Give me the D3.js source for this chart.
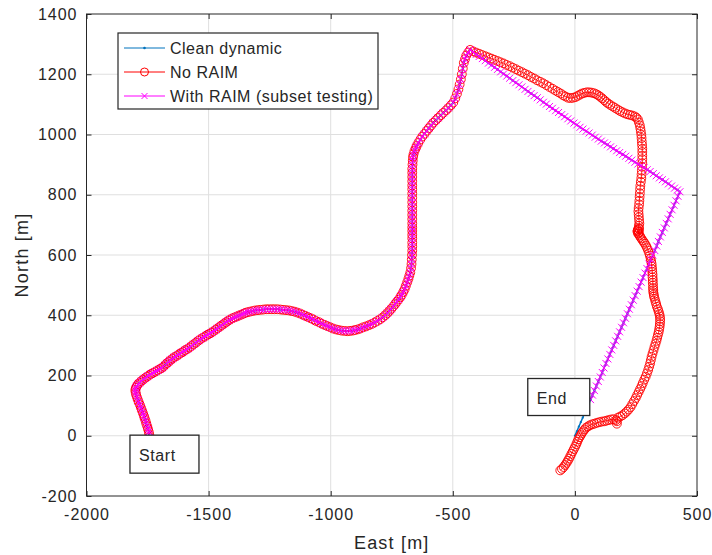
<!DOCTYPE html>
<html>
<head>
<meta charset="utf-8">
<script src="https://cdn.jsdelivr.net/npm/d3@7"></script>
<style>
  body { margin: 0; background: #fff; }
  text { font-family: "Liberation Sans", Arial, sans-serif; fill: #262626; }
</style>
</head>
<body>
<div id="chart"></div>
<script>
// Track shared by all three solutions, start -> top of the route (East, North in m)
const commonTrack = [
  [-1742, -5], [-1743, 4], [-1745, 13], [-1748, 22], [-1751, 31], [-1755, 40], [-1758, 49], [-1762, 58],
  [-1765, 66], [-1769, 75], [-1773, 84], [-1777, 93], [-1781, 102], [-1786, 111], [-1790, 120], [-1794, 129],
  [-1797, 137], [-1799, 145], [-1800, 152], [-1798, 159], [-1794, 165], [-1789, 171], [-1783, 176], [-1776, 181],
  [-1769, 186], [-1761, 191], [-1753, 196], [-1745, 200], [-1736, 205], [-1727, 209], [-1718, 213], [-1709, 217],
  [-1700, 221], [-1692, 225], [-1684, 230], [-1677, 236], [-1670, 241], [-1663, 246], [-1656, 251], [-1648, 256],
  [-1640, 261], [-1631, 265], [-1622, 270], [-1613, 275], [-1604, 279], [-1596, 284], [-1587, 288], [-1578, 293],
  [-1570, 298], [-1561, 304], [-1552, 309], [-1543, 315], [-1534, 320], [-1525, 325], [-1516, 329], [-1507, 334],
  [-1498, 338], [-1489, 342], [-1480, 347], [-1471, 352], [-1463, 357], [-1454, 362], [-1446, 367], [-1437, 372],
  [-1428, 377], [-1420, 382], [-1411, 386], [-1402, 390], [-1393, 393], [-1384, 396], [-1376, 399], [-1367, 402],
  [-1358, 405], [-1350, 408], [-1341, 410], [-1331, 412], [-1320, 414], [-1309, 416], [-1298, 417], [-1287, 418],
  [-1276, 419], [-1264, 420], [-1253, 420], [-1241, 420], [-1230, 420], [-1218, 420], [-1206, 419], [-1195, 418],
  [-1183, 417], [-1171, 416], [-1160, 414], [-1148, 412], [-1137, 409], [-1126, 406], [-1115, 402], [-1104, 398],
  [-1093, 394], [-1082, 390], [-1071, 386], [-1060, 381], [-1048, 377], [-1037, 372], [-1025, 368], [-1014, 364],
  [-1002, 360], [-991, 356], [-979, 353], [-968, 351], [-956, 349], [-944, 348], [-932, 347], [-921, 348],
  [-910, 349], [-900, 351], [-889, 353], [-878, 356], [-867, 360], [-855, 363], [-843, 367], [-832, 371],
  [-820, 376], [-809, 381], [-797, 387], [-787, 393], [-777, 400], [-768, 407], [-760, 414], [-752, 421],
  [-744, 429], [-736, 437], [-729, 445], [-722, 452], [-715, 460], [-709, 468], [-703, 477], [-697, 487],
  [-692, 498], [-687, 509], [-682, 520], [-678, 531], [-674, 542], [-671, 556], [-669, 570], [-668, 585],
  [-667, 600], [-666, 614], [-666, 628], [-666, 641], [-666, 655], [-666, 667], [-666, 680], [-666, 692],
  [-666, 705], [-666, 719], [-666, 733], [-666, 747], [-666, 761], [-666, 775], [-666, 790], [-666, 804],
  [-666, 818], [-666, 831], [-666, 845], [-666, 859], [-666, 873], [-666, 886], [-665, 900], [-664, 913],
  [-663, 925], [-661, 934], [-657, 945], [-652, 954], [-648, 962], [-641, 972], [-633, 983], [-625, 993],
  [-616, 1002], [-607, 1012], [-598, 1021], [-589, 1030], [-580, 1039], [-570, 1047], [-560, 1055], [-549, 1064],
  [-539, 1072], [-528, 1080], [-518, 1088], [-508, 1097], [-498, 1106], [-490, 1120], [-483, 1135], [-477, 1150],
  [-472, 1166], [-467, 1183], [-463, 1200], [-459, 1219], [-455, 1238], [-450, 1250], [-445, 1262], [-437, 1272],
  [-429, 1281]
];

// Clean dynamic after the top: straight leg to the east corner, then back down to the end
const cleanTail = [
  [-417, 1274], [-404, 1266], [-392, 1259], [-379, 1252], [-367, 1245], [-354, 1237], [-342, 1230], [-329, 1223],
  [-317, 1216], [-304, 1208], [-292, 1201], [-279, 1194], [-267, 1187], [-254, 1179], [-242, 1172], [-229, 1165],
  [-217, 1158], [-204, 1150], [-192, 1143], [-179, 1136], [-167, 1129], [-154, 1122], [-142, 1115], [-129, 1107],
  [-117, 1101], [-104, 1093], [-92, 1087], [-79, 1079], [-67, 1073], [-54, 1066], [-42, 1059], [-29, 1052],
  [-17, 1045], [-4, 1038], [8, 1032], [21, 1024], [33, 1018], [46, 1011], [58, 1005], [71, 998],
  [83, 991], [96, 985], [108, 978], [121, 972], [133, 966], [146, 959], [158, 953], [171, 946],
  [183, 940], [196, 934], [208, 928], [221, 921], [233, 915], [246, 908], [258, 902], [271, 896],
  [283, 890], [296, 883], [308, 877], [321, 870], [333, 863], [346, 856], [358, 850], [371, 843],
  [383, 836], [396, 829], [408, 822], [420, 816], [430, 810],
  [422, 795], [414, 780], [406, 765], [398, 750], [390, 735], [382, 720], [374, 705], [366, 690],
  [358, 675], [350, 660], [342, 645], [335, 630], [327, 615], [319, 600], [311, 585], [303, 570],
  [295, 555], [287, 540], [279, 525], [271, 510], [263, 495], [255, 480], [247, 465], [239, 450],
  [231, 435], [223, 420], [215, 405], [207, 390], [199, 375], [191, 360], [183, 345], [175, 330],
  [167, 315], [159, 300], [151, 285], [143, 270], [135, 255], [127, 240], [119, 225], [112, 210],
  [104, 195], [96, 180], [88, 165], [80, 150], [72, 135], [64, 120], [56, 105], [48, 90],
  [40, 75], [32, 60], [24, 45], [16, 30], [8, 15], [0, 0]
];

// With RAIM follows the clean tail but its epochs stop short of the end
const raimStopNorth = 120;

// No RAIM after the top: drifts north-east, then runs down the east side to a wrong end
const noRaimTail = [
  [-417, 1276], [-405, 1272], [-392, 1268], [-380, 1264], [-367, 1260], [-355, 1256], [-342, 1252], [-330, 1248],
  [-317, 1244], [-305, 1240], [-292, 1236], [-280, 1231], [-267, 1227], [-255, 1222], [-242, 1217], [-230, 1212],
  [-217, 1207], [-205, 1202], [-192, 1197], [-180, 1191], [-167, 1186], [-155, 1180], [-142, 1175], [-130, 1170],
  [-117, 1164], [-105, 1158], [-92, 1152], [-80, 1146], [-69, 1141], [-58, 1136], [-48, 1130], [-38, 1126],
  [-28, 1122], [-18, 1121], [-8, 1122], [2, 1124], [11, 1128], [20, 1132], [29, 1136], [38, 1138],
  [48, 1140], [58, 1140], [68, 1139], [78, 1137], [87, 1134], [96, 1130], [104, 1125], [112, 1120],
  [120, 1114], [128, 1108], [136, 1103], [145, 1098], [155, 1093], [165, 1088], [175, 1083], [185, 1078],
  [195, 1074], [205, 1070], [215, 1067], [225, 1065], [235, 1063], [245, 1060], [252, 1056], [258, 1050],
  [262, 1040], [266, 1030], [268, 1020], [270, 1010], [272, 999], [273, 988], [274, 976], [275, 965],
  [276, 953], [276, 942], [276, 930], [276, 918], [276, 905], [275, 893], [274, 880], [273, 868],
  [272, 855], [270, 843], [268, 830], [267, 818], [266, 805], [265, 793], [264, 780], [263, 768],
  [261, 756], [260, 745], [261, 735], [262, 725], [263, 715], [264, 705], [262, 697], [261, 690],
  [258, 684], [256, 678], [259, 672], [262, 676], [257, 681], [260, 670], [263, 686], [265, 665],
  [268, 660], [272, 655], [277, 649], [282, 643], [287, 637], [292, 630], [296, 623], [300, 615],
  [304, 606], [307, 598], [310, 589], [312, 580], [314, 571], [315, 562], [316, 553], [317, 544],
  [318, 535], [318, 526], [319, 517], [319, 508], [320, 499], [320, 490], [321, 483], [321, 476],
  [323, 469], [324, 462], [327, 454], [330, 445], [333, 437], [336, 428], [340, 420], [343, 412],
  [346, 404], [348, 396], [349, 388], [349, 380], [348, 371], [347, 362], [345, 353], [343, 344],
  [340, 335], [337, 325], [334, 315], [330, 305], [326, 295], [322, 284], [318, 273], [314, 262],
  [311, 251], [308, 240], [304, 229], [300, 218], [295, 207], [290, 196], [284, 186], [278, 175],
  [273, 165], [267, 155], [261, 145], [255, 135], [249, 125], [242, 115], [235, 105], [228, 95],
  [220, 87], [212, 80], [204, 74], [195, 68], [186, 64], [176, 60], [172, 48], [172, 40],
  [168, 52], [158, 55], [148, 54], [138, 52], [129, 50], [120, 48], [110, 47], [100, 45],
  [90, 43], [80, 40], [71, 38], [62, 35], [54, 31], [46, 27], [40, 21], [34, 15],
  [29, 9], [24, 2], [19, -5], [14, -12], [10, -20], [6, -28], [1, -36], [-4, -44],
  [-9, -52], [-14, -60], [-19, -68], [-24, -76], [-29, -83], [-34, -90], [-40, -97], [-46, -104],
  [-53, -110], [-60, -115]
];

const xTicks = [-2000, -1500, -1000, -500, 0, 500];
const yTicks = [-200, 0, 200, 400, 600, 800, 1000, 1200, 1400];

const legendLabels = ["Clean dynamic", "No RAIM", "With RAIM (subset testing)"];
const notes = [
  { text: "Start", east: -1822, north: 2, w: 69, h: 38 },
  { text: "End", east: -193, north: 190, w: 62, h: 37 }
];

const colors = { clean: "#0072bd", noRaim: "#ff0000", raim: "#ff00ff", axis: "#262626", grid: "#dfdfdf" };

const cleanTrack = commonTrack.concat(cleanTail);
const noRaimTrack = commonTrack.concat(noRaimTail);
const raimTrack = commonTrack.concat(cleanTail.filter(p => p[1] >= raimStopNorth));

// Canvas
const W = 712, H = 555;
const margin = { top: 14, right: 15, bottom: 59, left: 86.5 };
const width = W - margin.left - margin.right;
const height = H - margin.top - margin.bottom;

const svg = d3.select("#chart").append("svg")
  .attr("width", W)
  .attr("height", H);

const g = svg.append("g")
  .attr("transform", `translate(${margin.left},${margin.top})`);

const x = d3.scaleLinear().domain([-2000, 500]).range([0, width]);
const y = d3.scaleLinear().domain([-200, 1400]).range([height, 0]);

// Grid
g.append("g").selectAll("line").data(xTicks.slice(1, -1)).enter().append("line")
  .attr("x1", d => x(d)).attr("x2", d => x(d))
  .attr("y1", 0).attr("y2", height)
  .attr("stroke", colors.grid);
g.append("g").selectAll("line").data(yTicks.slice(1, -1)).enter().append("line")
  .attr("y1", d => y(d)).attr("y2", d => y(d))
  .attr("x1", 0).attr("x2", width)
  .attr("stroke", colors.grid);

// Data
g.append("clipPath").attr("id", "plot-clip")
  .append("rect").attr("width", width).attr("height", height);
const plot = g.append("g").attr("clip-path", "url(#plot-clip)");

const line = d3.line().x(d => x(d[0])).y(d => y(d[1]));

plot.append("path").datum(cleanTrack)
  .attr("d", line).attr("fill", "none")
  .attr("stroke", colors.clean).attr("stroke-width", 1.5);
plot.append("g").selectAll("circle").data(cleanTrack).enter().append("circle")
  .attr("cx", d => x(d[0])).attr("cy", d => y(d[1])).attr("r", 1.1)
  .attr("fill", colors.clean);

plot.append("path").datum(noRaimTrack)
  .attr("d", line).attr("fill", "none")
  .attr("stroke", colors.noRaim).attr("stroke-width", 0.8);
plot.append("g").selectAll("circle").data(noRaimTrack).enter().append("circle")
  .attr("cx", d => x(d[0])).attr("cy", d => y(d[1])).attr("r", 4.4)
  .attr("fill", "none").attr("stroke", colors.noRaim).attr("stroke-width", 0.9);

const cross = "M-3.5,-3.5L3.5,3.5M-3.5,3.5L3.5,-3.5";
plot.append("path").datum(raimTrack)
  .attr("d", line).attr("fill", "none")
  .attr("stroke", colors.raim).attr("stroke-width", 0.8);
plot.append("g").selectAll("path").data(raimTrack).enter().append("path")
  .attr("d", cross)
  .attr("transform", d => `translate(${x(d[0])},${y(d[1])})`)
  .attr("fill", "none").attr("stroke", colors.raim).attr("stroke-width", 1);

// Axes box with inward ticks on all sides
const tickLen = 5;
const axisStyle = sel => {
  sel.select(".domain").remove();
  sel.selectAll("line").attr("stroke", colors.axis);
  sel.selectAll("text").attr("fill", colors.axis)
    .style("font-size", "16px").style("letter-spacing", "1px");
};
g.append("g").attr("transform", `translate(0,${height})`)
  .call(d3.axisBottom(x).tickValues(xTicks).tickSize(-tickLen).tickPadding(13).tickFormat(d => String(d)))
  .call(axisStyle);
g.append("g")
  .call(d3.axisTop(x).tickValues(xTicks).tickSize(-tickLen).tickFormat(""))
  .call(axisStyle);
g.append("g")
  .call(d3.axisLeft(y).tickValues(yTicks).tickSize(-tickLen).tickPadding(9).tickFormat(d => String(d)))
  .call(axisStyle);
g.append("g").attr("transform", `translate(${width},0)`)
  .call(d3.axisRight(y).tickValues(yTicks).tickSize(-tickLen).tickFormat(""))
  .call(axisStyle);
g.append("rect").attr("width", width).attr("height", height)
  .attr("fill", "none").attr("stroke", colors.axis).attr("stroke-width", 1);

// Axis labels
g.append("text")
  .attr("x", width / 2).attr("y", height + 53)
  .attr("text-anchor", "middle")
  .style("font-size", "18px").style("letter-spacing", "1.2px")
  .text("East [m]");
g.append("text")
  .attr("transform", `translate(${-59},${height / 2}) rotate(-90)`)
  .attr("text-anchor", "middle")
  .style("font-size", "18px").style("letter-spacing", "1.2px")
  .text("North [m]");

// Start / End text boxes
const note = g.append("g").selectAll("g").data(notes).enter().append("g")
  .attr("transform", d => `translate(${x(d.east)},${y(d.north)})`);
note.append("rect")
  .attr("width", d => d.w).attr("height", d => d.h)
  .attr("fill", "#fff").attr("stroke", colors.axis).attr("stroke-width", 1.3);
note.append("text")
  .attr("x", 9).attr("y", d => d.h - 12)
  .style("font-size", "16px").style("letter-spacing", "0.6px")
  .attr("fill", "#000")
  .text(d => d.text);

// Legend
const legend = g.append("g").attr("transform", "translate(31.5,19)");
legend.append("rect").attr("width", 260).attr("height", 76)
  .attr("fill", "#fff").attr("stroke", colors.axis).attr("stroke-width", 1.2);
const item = legend.selectAll(".item").data(legendLabels).enter().append("g")
  .attr("class", "item")
  .attr("transform", (d, i) => `translate(0,${15 + i * 24})`);
const legendColor = [colors.clean, colors.noRaim, colors.raim];
item.append("line")
  .attr("x1", 6).attr("x2", 47)
  .attr("stroke", (d, i) => legendColor[i]).attr("stroke-width", 1);
item.filter((d, i) => i === 0).append("circle")
  .attr("cx", 26.5).attr("r", 1.3).attr("fill", colors.clean);
item.filter((d, i) => i === 1).append("circle")
  .attr("cx", 26.5).attr("r", 4).attr("fill", "none")
  .attr("stroke", colors.noRaim).attr("stroke-width", 1);
item.filter((d, i) => i === 2).append("path")
  .attr("d", "M-3,-3L3,3M-3,3L3,-3").attr("transform", "translate(26.5,0)")
  .attr("fill", "none").attr("stroke", colors.raim).attr("stroke-width", 1);
item.append("text")
  .attr("x", 52).attr("dy", "0.35em")
  .style("font-size", "16px").style("letter-spacing", "0.5px")
  .attr("fill", "#000")
  .text(d => d);
</script>
</body>
</html>
